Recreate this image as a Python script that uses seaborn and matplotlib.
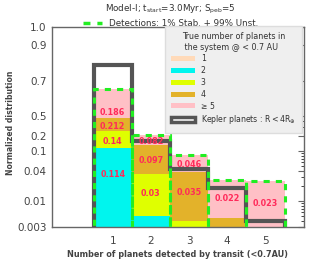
import numpy as np
import pandas as pd
import matplotlib
matplotlib.use("Agg")
import matplotlib.pyplot as plt
import seaborn as sns
from matplotlib.patches import Patch
from matplotlib.lines import Line2D

# number of planets detected by transit (x categories)
n_detected = [1, 2, 3, 4, 5]
true_labels = ["1", "2", "3", "4", "≥ 5"]

# normalized fractions, split by true number of planets in the system
frac_true1 = [0.0, 0.0, 0.0, 0.0, 0.0]
frac_true2 = [0.114, 0.005, 0.0, 0.0, 0.0]
frac_true3 = [0.14, 0.03, 0.004, 0.0005, 0.0003]
frac_true4 = [0.212, 0.097, 0.035, 0.004, 0.0015]
frac_true5 = [0.186, 0.082, 0.046, 0.022, 0.023]

# Kepler planets R < 4 R_earth
kepler = [0.785, 0.16, 0.0435, 0.018, 0.0039]

ytick_vals = [0.003, 0.01, 0.04, 0.1, 0.2, 0.5, 0.7, 0.9, 1.0]
ytick_labels = ["0.003", "0.01", "0.04", "0.1", "0.2", "0.5", "0.7", "0.9", "1.0"]

colors = ["#ffdab9", "#00f5ee", "#dfff00", "#e3b22a", "#ffc0c6"]
kep_color = "#555555"
green = "#22ee22"
red = "#ff2a5a"
txt_gray = "#444444"

layers = [frac_true1, frac_true2, frac_true3, frac_true4, frac_true5]
rows = []
for lab, vals in zip(true_labels, layers):
    for n, v in zip(n_detected, vals):
        rows.append({"n_det": n, "true_n": lab, "frac": v})
df = pd.DataFrame(rows)


# log below 0.5, linear above 0.5
def fwd(y):
    y = np.clip(np.asarray(y, dtype=float), 1e-5, None)
    with np.errstate(all="ignore"):
        return np.where(y < 0.5, np.log10(y / 0.5), (y - 0.5) * 3.6)


def inv(z):
    z = np.asarray(z, dtype=float)
    with np.errstate(all="ignore"):
        return np.where(z < 0, 0.5 * 10.0 ** z, 0.5 + z / 3.6)


sns.set_style("white")
plt.rcParams["font.family"] = ["DejaVu Sans"]

fig = plt.figure(figsize=(3.09, 2.62), dpi=100)
ax = fig.add_axes([0.167, 0.134, 0.818, 0.763])

sns.histplot(data=df, x="n_det", hue="true_n", weights="frac",
             hue_order=true_labels[::-1], palette=dict(zip(true_labels, colors)),
             multiple="stack", discrete=True, shrink=1, alpha=1, linewidth=0,
             legend=False, ax=ax, zorder=1)

totals = np.sum(layers, axis=0)
ax.bar(n_detected, totals, width=1, fill=False, edgecolor=green,
       linestyle=(0, (2, 2)), linewidth=2.2, zorder=4)

ax.stairs(kepler, np.arange(0.5, len(n_detected) + 1), baseline=0,
          color=kep_color, linewidth=3, zorder=3)

# value labels
bottoms = np.zeros(len(n_detected))
for vals in layers:
    for n, b, v in zip(n_detected, bottoms, vals):
        if v >= 0.01:
            ax.text(n, b + 0.3 * v, f"{v:.3g}", color=red, fontsize=5.8,
                    fontweight="bold", ha="center", va="center", zorder=6)
    bottoms = bottoms + np.array(vals)

ax.set_yscale("function", functions=(fwd, inv))
ax.set_ylim(0.003, 1.0)
ax.set_xlim(-0.6, 6.02)
ax.set_yticks(ytick_vals)
ax.set_yticklabels(ytick_labels)
minor = [m * 10.0 ** e for e in (-3, -2, -1) for m in range(2, 10)]
minor = [m for m in minor if 0.003 < m < 0.5 and m not in ytick_vals]
ax.set_yticks(minor, minor=True)
ax.set_xticks(n_detected)

ax.tick_params(axis="both", labelsize=7.5, labelcolor=txt_gray, color="#666666")
ax.tick_params(axis="y", which="major", direction="in", length=4, width=0.8, right=True)
ax.tick_params(axis="y", which="minor", direction="in", length=2, width=0.6, right=True)
ax.tick_params(axis="x", direction="out", length=3, width=0.8, top=False)
for sp in ax.spines.values():
    sp.set_color("#666666")
    sp.set_linewidth(1.0)

ax.set_xlabel("Number of planets detected by transit (<0.7AU)", fontsize=5.9,
              fontweight="semibold", color=txt_gray, labelpad=3)
ax.set_ylabel("Normalized distribution", fontsize=5.6, fontweight="semibold",
              color=txt_gray)
ax.yaxis.set_label_coords(-0.145, 0.52)

handles = [Patch(facecolor=c, edgecolor="none") for c in colors]
handles.append(Patch(facecolor="white", edgecolor=kep_color, linewidth=2.5))
labels = true_labels + ["Kepler planets : R$<$4R$_{\\oplus}$"]
leg = ax.legend(handles, labels, title="True number of planets in\n the system @ < 0.7 AU",
                loc="upper right", bbox_to_anchor=(0.99, 1.005), borderaxespad=0,
                fontsize=5.6, title_fontsize=5.8, handlelength=3.1, handleheight=0.6,
                labelspacing=0.36, frameon=True, fancybox=False,
                facecolor="#efefef", edgecolor="#dddddd", framealpha=1,
                borderpad=0.8, handletextpad=0.7)
for t in leg.get_texts():
    t.set_color("#333333")
leg.get_title().set_color("#333333")
leg.set_zorder(10)
ax.add_artist(leg)

det = ax.legend([Line2D([], [], color=green, linestyle=(0, (2, 2)), linewidth=2.5)],
                ["Detections: 1% Stab. + 99% Unst."], loc="lower center",
                bbox_to_anchor=(0.47, 0.985), frameon=False, fontsize=6.3,
                handlelength=2.2, handletextpad=0.8, borderaxespad=0, borderpad=0.2)
for t in det.get_texts():
    t.set_color("#333333")

fig.text(0.552, 1 - 9 / 262, "Model-I; t$_{\\rm start}$=3.0Myr; S$_{\\rm peb}$=5",
         ha="center", va="center", fontsize=6.3, color="#333333")

fig.savefig("out.png", dpi=100)
